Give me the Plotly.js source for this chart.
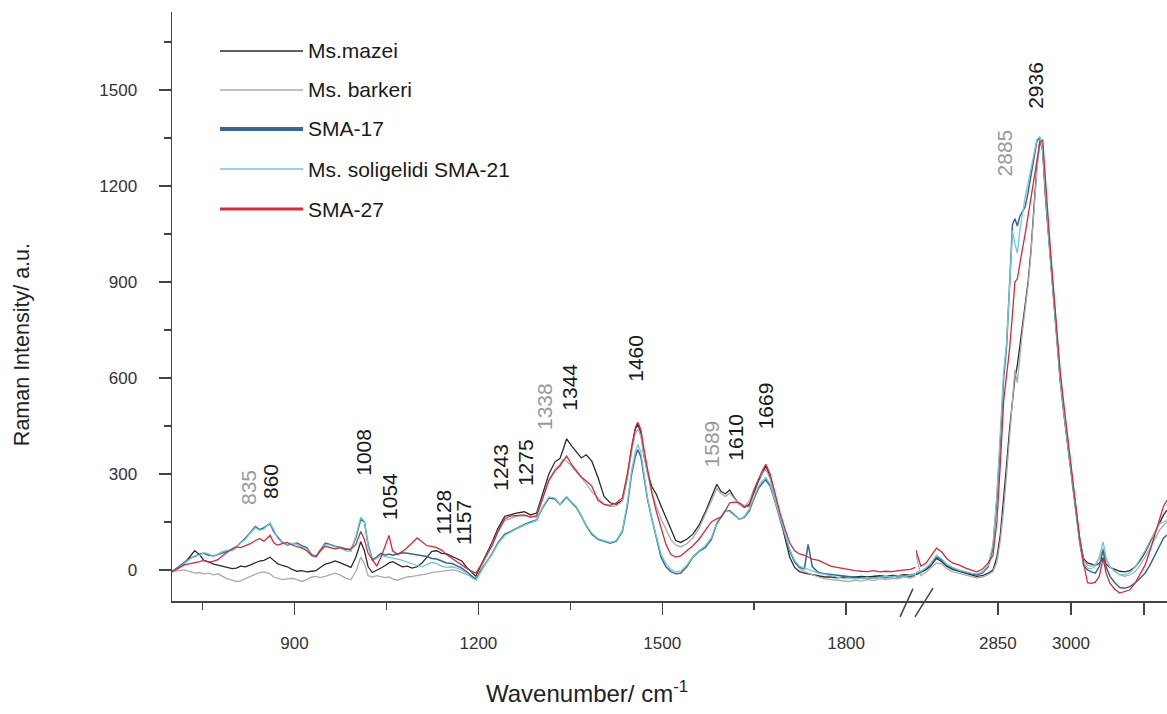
<!DOCTYPE html>
<html>
<head>
<meta charset="utf-8">
<script src="https://cdn.plot.ly/plotly-3.0.1.min.js"></script>
<style>html,body{margin:0;padding:0;background:#fff;}#chart{width:1167px;height:714px;}</style>
</head>
<body>
<div id="chart"></div>
<script>
// ---------- DATA ----------
const wnLeft = [
  700, 710, 720, 730, 737, 745, 752, 760, 768, 775,
  783, 790, 798, 805, 812, 820, 828, 836, 843, 850,
  860, 866, 872, 880, 888, 896, 904, 912, 920, 928,
  935, 942, 950, 958, 966, 975, 984, 992, 1000, 1008,
  1014, 1020, 1027, 1034, 1041, 1048, 1054, 1060, 1068, 1076,
  1084, 1092, 1100, 1108, 1116, 1124, 1132, 1140, 1148, 1157,
  1165, 1173, 1181, 1189, 1196, 1203, 1212, 1222, 1232, 1243,
  1252, 1262, 1275, 1285, 1295, 1305, 1315, 1325, 1333, 1338,
  1344, 1352, 1360, 1368, 1376, 1385, 1395, 1405, 1415, 1425,
  1435, 1443, 1450, 1456, 1460, 1465, 1470, 1476, 1483, 1490,
  1498, 1506, 1514, 1522, 1530, 1540, 1550, 1560, 1570, 1580,
  1589, 1596, 1603, 1610, 1618, 1626, 1634, 1642, 1650, 1657,
  1663, 1669, 1676, 1684, 1692, 1700, 1708, 1716, 1724, 1732,
  1738, 1745, 1755, 1765, 1775, 1785, 1795, 1805, 1815, 1825,
  1835, 1845, 1855, 1865, 1875, 1885, 1895, 1905, 1913
];
const wnRight = [
  2682, 2692, 2702, 2712, 2724, 2735, 2745, 2757, 2770, 2784,
  2795, 2806, 2818, 2830, 2840, 2848, 2855, 2862, 2868, 2874,
  2880, 2885, 2890, 2895, 2900, 2906, 2912, 2918, 2924, 2930,
  2936, 2942, 2948, 2955, 2962, 2970, 2978, 2986, 2994, 3002,
  3010, 3018, 3026, 3034, 3042, 3050, 3058, 3066, 3072, 3080,
  3090, 3100, 3110, 3121, 3132, 3142, 3152, 3162, 3172, 3182,
  3190, 3197
];

const mazeiLeft = [
  -5, 5, 20, 45, 60, 48, 30, 25, 18, 15,
  10, 8, 4, 6, 12, 10, 16, 22, 28, 30,
  40, 30, 20, 14, 10, 2, -4, -2, -6, -4,
  -2, 8, 18, 22, 28, 22, 14, 8, 40, 88,
  60, 10, -8, -2, 6, 14, 22, 26, 18, 10,
  12, 6, 10, 22, 40, 58, 60, 52, 50, 42,
  36, 28, 8, -6, -20, 10, 45, 85, 130, 168,
  172, 178, 182, 172, 178, 240, 300, 338, 348, 375,
  410, 388, 368, 350, 360, 340, 290, 230, 210, 205,
  218, 290, 380, 440, 455, 430, 360, 305, 260, 238,
  200, 165, 125, 92, 86, 96, 112, 140, 180, 225,
  268, 245, 238, 250, 225, 205, 195, 205, 245, 278,
  300, 325, 290, 225, 160, 100, 40, 8, -5, -10,
  -12, -15, -20, -22, -22, -25, -22, -24, -22, -20,
  -22, -20, -18, -20, -17, -18, -15, -16, -12
];
const mazeiRight = [
  -15, -8, 0, 12, 36, 26, 12, 2, -4, -10,
  -14, -20, -18, -10, 0, 40, 110, 220, 330, 440,
  540, 600, 640, 700, 760, 830, 900, 1000, 1120, 1260,
  1340, 1320, 1170, 1030, 900, 750, 600, 490, 390, 290,
  190, 95, 35, 22, 18, 15, 20, 38, 18, 8,
  2, -4, -6, -2, 10, 30, 55, 85, 115, 150,
  172, 187
];

const barkeriLeft = [
  -5, -2, 0, -5, -10, -8, -12, -10, -15, -12,
  -20, -28, -32, -36, -34, -26, -20, -14, -8, -6,
  -12, -22, -26, -30, -28, -26, -30, -36, -30, -22,
  -20, -24, -20, -14, -10, -16, -26, -30, -5, 40,
  20, -18, -22, -18, -20, -24, -22, -28, -32, -26,
  -22, -20, -18, -14, -12, -8, -6, -4, -2, 0,
  -2, -8, -14, -22, -26, 0, 40, 78, 120, 155,
  160, 168, 170, 165, 170, 225, 280, 315, 330, 345,
  340, 325, 305, 290, 270, 245, 225, 205, 198, 200,
  215, 290, 370, 425, 440, 420, 360, 300, 245, 200,
  160, 125, 95, 78, 72, 82, 100, 130, 170, 215,
  255, 238, 230, 240, 222, 205, 198, 215, 255, 285,
  300, 315, 285, 230, 170, 115, 60, 25, 5, -5,
  -10, -15, -22, -28, -30, -32, -34, -36, -32, -35,
  -30, -33, -28, -30, -26, -28, -22, -25, -20
];
const barkeriRight = [
  50, -18, -8, 5, 22, 18, 5, -5, -10, -15,
  -20, -25, -22, -15, -5, 25, 90, 190, 300, 410,
  520, 625, 585, 665, 740, 815, 890, 990, 1110, 1250,
  1335, 1315, 1165, 1025, 895, 745, 595, 485, 385, 285,
  185, 90, 30, 15, 12, 18, 35, 68, 30, 10,
  -5, -15, -20, -15, -5, 15, 40, 70, 100, 125,
  140, 150
];

const sma17Left = [
  -5, 10, 25, 38, 42, 50, 52, 46, 44, 48,
  54, 58, 64, 72, 86, 100, 118, 136, 126, 132,
  145, 120, 104, 86, 78, 82, 84, 76, 70, 48,
  42, 62, 84, 80, 74, 70, 66, 62, 100, 158,
  150, 80, 32, 40, 52, 46, 50, 46, 50, 54,
  52, 50, 48, 46, 42, 36, 34, 28, 22, 20,
  14, 6, -6, -20, -30, -5, 22, 50, 85, 112,
  120, 130, 142, 150, 156, 195, 225, 222, 204, 215,
  228, 210, 195, 168, 138, 112, 96, 90, 84, 90,
  120, 200, 300, 355, 376, 355, 290, 220, 160, 100,
  40, 10, -5, -12, -10, 10, 40, 58, 70, 95,
  145, 165, 185, 185, 172, 158, 165, 185, 225, 255,
  270, 282, 262, 215, 160, 110, 60, 25, 8, 4,
  80, 10, -8, -12, -14, -18, -20, -22, -24, -25,
  -24, -26, -22, -24, -20, -22, -18, -20, -15
];
const sma17Right = [
  -12, -6, 4, 18, 42, 30, 16, 6, -2, -8,
  -12, -16, -10, 10, 70, 220, 400, 600, 700, 890,
  1080, 1098, 1075, 1105, 1120, 1135, 1180, 1230, 1290, 1340,
  1350, 1310, 1160, 1020, 890, 740, 590, 480, 380, 280,
  180, 85, 15, 0, -6, -10, 10, 62, 10, -20,
  -40, -55, -57, -52, -40, -25, -10, 15, 45, 80,
  100, 109
];

const sma21Left = [
  -8, 5, 20, 35, 44, 46, 54, 50, 42, 50,
  58, 62, 60, 70, 84, 96, 116, 132, 124, 128,
  148, 126, 100, 84, 80, 84, 80, 72, 66, 46,
  40, 58, 80, 78, 72, 68, 60, 58, 105, 165,
  152, 75, 28, 36, 46, 42, 40, 36, 34, 30,
  24, 20, 14, 10, 16, 24, 20, 12, 8, 10,
  6, 0, -10, -24, -32, -8, 20, 48, 82, 108,
  118, 128, 140, 148, 155, 198, 228, 225, 205, 218,
  230, 212, 198, 170, 140, 115, 98, 92, 86, 92,
  125, 210, 310, 370, 392, 370, 300, 225, 160, 105,
  50, 20, 2, -6, -4, 15, 42, 60, 75, 100,
  150, 168, 188, 182, 170, 158, 168, 190, 230, 262,
  278, 290, 268, 220, 165, 115, 65, 30, 12, 6,
  2, -4, -10, -14, -18, -22, -26, -25, -28, -26,
  -24, -26, -22, -20, -22, -18, -20, -16, -14
];
const sma21Right = [
  -8, -4, 6, 20, 46, 34, 18, 8, 0, -6,
  -10, -12, -6, 14, 80, 235, 420, 620, 710, 900,
  1060, 1020, 990, 1060, 1110, 1165, 1210, 1250, 1300, 1345,
  1355, 1310, 1165, 1025, 895, 745, 595, 485, 385, 285,
  185, 90, 20, 6, 4, 12, 40, 88, 40, 10,
  -5, -14, -15, -8, 10, 35, 60, 90, 120, 145,
  150, 156
];

const sma27Left = [
  -5, 5, 16, 20, 22, 26, 30, 24, 28, 32,
  45, 56, 66, 72, 70, 76, 82, 92, 98, 90,
  108, 85, 78, 82, 86, 78, 74, 68, 60, 45,
  42, 60, 74, 70, 66, 70, 64, 66, 80, 120,
  95, 52, 30, 12, 40, 80, 108, 60, 48, 58,
  70, 85, 100, 88, 76, 74, 70, 62, 48, 36,
  25, 14, 5, -4, -10, 12, 40, 75, 120, 160,
  168, 170, 172, 165, 168, 225, 280, 310, 325, 340,
  356, 330, 310, 290, 278, 262, 218, 205, 202, 210,
  225, 300, 385, 445, 462, 440, 380, 310, 240, 185,
  130, 80, 48, 40, 44, 60, 76, 96, 125, 150,
  160, 165, 185, 210, 212, 210, 198, 200, 250, 285,
  310, 330, 300, 240, 180, 130, 85, 60, 50, 46,
  40, 34, 30, 22, 12, 8, 4, 0, -2, -4,
  -5, -2, -6, -4, -5, -2, 0, 2, 8
];
const sma27Right = [
  62, 12, 20, 42, 68, 56, 36, 22, 16, 6,
  0, -6, 2, 22, 45, 150, 330, 530, 610, 690,
  800, 900, 910, 960, 1000, 1050, 1110, 1170, 1230, 1290,
  1335, 1345, 1200, 1060, 920, 770, 620, 510, 400, 300,
  200, 100, 20, -40, -42, -38, -20, 36, -10, -42,
  -60, -72, -68, -62, -40, -12, 15, 60, 110, 160,
  200, 218
];

const seriesNames = ['Ms.mazei', 'Ms. barkeri', 'SMA-17', 'Ms. soligelidi SMA-21', 'SMA-27'];
const peakLabels = ['835', '860', '1008', '1054', '1128', '1157', '1243', '1275', '1338', '1344',
                    '1460', '1589', '1610', '1669', '2885', '2936'];
const yTickVals = [0, 300, 600, 900, 1200, 1500];
const yMinorVals = [150, 450, 750, 1050, 1350, 1650];
const xTickValsLeft = [900, 1200, 1500, 1800];
const xMinorValsLeft = [750, 1050, 1350, 1650];
const xTickValsRight = [2850, 3000];
const xMinorValsRight = [3150];
const xTitle = 'Wavenumber/ cm<sup>-1</sup>';
const yTitle = 'Raman Intensity/ a.u.';

// ---------- STYLE / LAYOUT ----------
const FONT = '"Liberation Sans", Arial, Helvetica, sans-serif';
const seriesData = [
  [mazeiLeft, mazeiRight], [barkeriLeft, barkeriRight], [sma17Left, sma17Right],
  [sma21Left, sma21Right], [sma27Left, sma27Right]
];
const seriesStyle = [
  {color: '#2b2b2b', width: 1.3, legW: 1.6},
  {color: '#ababab', width: 1.3, legW: 1.6},
  {color: '#3b6690', width: 1.5, legW: 4},
  {color: '#6fcad2', width: 1.3, legW: 1.6},
  {color: '#d12b3c', width: 1.3, legW: 3}
];

const traces = [];
seriesData.forEach((s, i) => {
  traces.push({x: wnLeft, y: s[0], xaxis: 'x', yaxis: 'y', mode: 'lines', name: seriesNames[i],
    line: {color: seriesStyle[i].color, width: seriesStyle[i].width}, showlegend: false, hoverinfo: 'skip'});
  traces.push({x: wnRight, y: s[1], xaxis: 'x2', yaxis: 'y', mode: 'lines', name: seriesNames[i],
    line: {color: seriesStyle[i].color, width: seriesStyle[i].width}, showlegend: false, hoverinfo: 'skip'});
});

// label placements (axis, x, y, colour)
const peakPlace = [
  ['x', 825, 258, '#9a9a9a'], ['x', 861, 277, '#1a1a1a'], ['x', 1012, 367, '#1a1a1a'],
  ['x', 1055, 230, '#1a1a1a'], ['x', 1143, 180, '#1a1a1a'], ['x', 1176, 149, '#1a1a1a'],
  ['x', 1236, 321, '#1a1a1a'], ['x', 1277, 336, '#1a1a1a'], ['x', 1309, 510, '#9a9a9a'],
  ['x', 1348, 570, '#1a1a1a'], ['x', 1457, 663, '#1a1a1a'], ['x', 1581, 395, '#9a9a9a'],
  ['x', 1619, 414, '#1a1a1a'], ['x', 1669, 514, '#1a1a1a'], ['x2', 2864, 1304, '#9a9a9a'],
  ['x2', 2928, 1516, '#1a1a1a']
];

const annotations = peakLabels.map((t, i) => ({
  text: t, xref: peakPlace[i][0], yref: 'y', x: peakPlace[i][1], y: peakPlace[i][2],
  xanchor: 'center', yanchor: 'middle', textangle: -90, showarrow: false,
  font: {family: FONT, size: 21, color: peakPlace[i][3]}
}));

// axis titles
annotations.push({text: xTitle, xref: 'paper', yref: 'paper', x: 0.417, y: -0.1545,
  xanchor: 'center', yanchor: 'middle', showarrow: false, font: {family: FONT, size: 24, color: '#222'}});
annotations.push({text: yTitle, xref: 'paper', yref: 'paper', x: -0.1508, y: 0.436,
  xanchor: 'center', yanchor: 'middle', textangle: -90, showarrow: false, font: {family: FONT, size: 21.5, color: '#222'}});

// custom legend
const legY = [0.9338, 0.8676, 0.8014, 0.7334, 0.6655];
const shapes = [];
seriesNames.forEach((n, i) => {
  shapes.push({type: 'line', xref: 'paper', yref: 'paper', x0: 0.0482, x1: 0.1317, y0: legY[i], y1: legY[i],
    line: {color: seriesStyle[i].color, width: seriesStyle[i].legW}});
  annotations.push({text: n, xref: 'paper', yref: 'paper', x: 0.1347, y: legY[i], xanchor: 'left', yanchor: 'middle',
    showarrow: false, font: {family: FONT, size: 21, color: '#1a1a1a'}});
});
// axis break marks
shapes.push({type: 'line', xref: 'paper', yref: 'paper', x0: 0.7317, y0: -0.027, x1: 0.7447, y1: 0.021, line: {color: '#444', width: 1.5}});
shapes.push({type: 'line', xref: 'paper', yref: 'paper', x0: 0.7467, y0: -0.027, x1: 0.7648, y1: 0.022, line: {color: '#444', width: 1.5}});

const axisCommon = {
  showline: true, linecolor: '#444', linewidth: 1.5, ticks: 'outside', ticklen: 12, tickwidth: 1.5,
  tickcolor: '#444', showgrid: false, zeroline: false, tickfont: {family: FONT, size: 17, color: '#333'},
  fixedrange: true
};

const layout = {
  width: 1167, height: 714,
  margin: {l: 172, r: 0, t: 12, b: 113, pad: 0},
  paper_bgcolor: '#ffffff', plot_bgcolor: '#ffffff',
  showlegend: false,
  font: {family: FONT, color: '#333'},
  xaxis: Object.assign({}, axisCommon, {
    domain: [0, 0.7477], range: [700, 1914], anchor: 'y', tickmode: 'array', tickvals: xTickValsLeft,
    ticktext: xTickValsLeft.map(String), ticklabelstandoff: 14,
    minor: {tickmode: 'array', tickvals: xMinorValsLeft, ticks: 'outside', ticklen: 7, tickwidth: 1.5, tickcolor: '#444', showgrid: false}
  }),
  xaxis2: Object.assign({}, axisCommon, {
    domain: [0.7477, 1], range: [2682, 3197], anchor: 'y', tickmode: 'array', tickvals: xTickValsRight,
    ticktext: xTickValsRight.map(String), ticklabelstandoff: 14,
    minor: {tickmode: 'array', tickvals: xMinorValsRight, ticks: 'outside', ticklen: 12, tickwidth: 1.5, tickcolor: '#444', showgrid: false}
  }),
  yaxis: Object.assign({}, axisCommon, {
    range: [-97, 1744], anchor: 'x', tickmode: 'array', tickvals: yTickVals, ticktext: yTickVals.map(String),
    ticklabelstandoff: 18,
    minor: {tickmode: 'array', tickvals: yMinorVals, ticks: 'outside', ticklen: 7, tickwidth: 1.5, tickcolor: '#444', showgrid: false}
  }),
  annotations: annotations,
  shapes: shapes
};

Plotly.newPlot('chart', traces, layout, {staticPlot: true, displayModeBar: false});
</script>
</body>
</html>
